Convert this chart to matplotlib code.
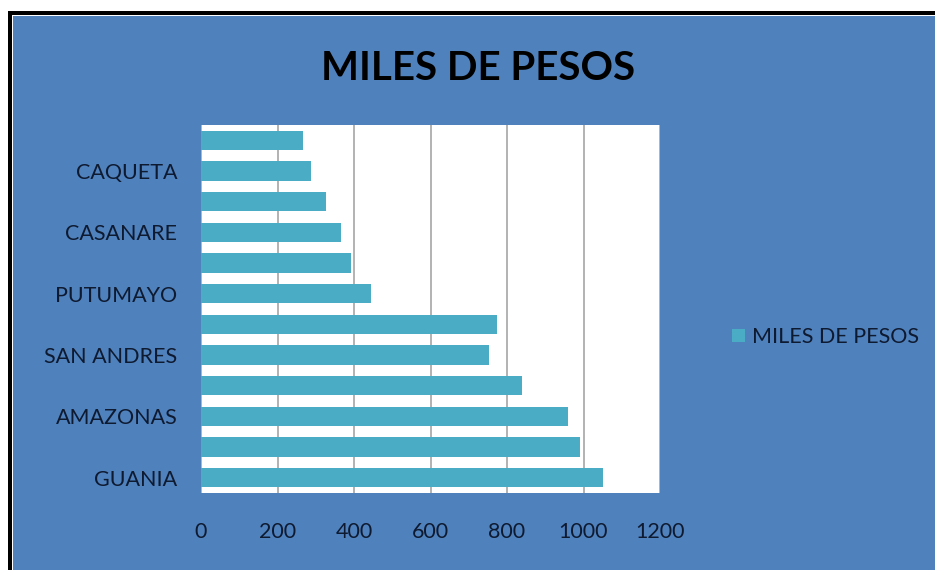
import matplotlib
matplotlib.use("Agg")
import matplotlib.pyplot as plt
from matplotlib.patches import Rectangle

# Data (bottom to top); only every other category label is shown on the axis
categories = ["GUANIA", "", "AMAZONAS", "", "SAN ANDRES", "",
              "PUTUMAYO", "", "CASANARE", "", "CAQUETA", ""]
values = [1050, 991, 959, 838, 754, 773, 444, 391, 365, 326, 287, 267]
series_name = "MILES DE PESOS"
title = "MILES DE PESOS"
x_ticks = [0, 200, 400, 600, 800, 1000, 1200]

W, H = 935, 570
BG = "#4F81BD"
BAR = "#4BACC6"
TEXT = "#0e1a30"

plt.rcParams["font.family"] = ["Lato", "DejaVu Sans"]

fig = plt.figure(figsize=(W / 100, H / 100), dpi=100)
fig.patch.set_facecolor("white")

def px_rect(x0, ytop, color):
    # rectangle from (x0, ytop) in pixels to the bottom-right corner
    fig.patches.append(Rectangle((x0 / W, 0), 1 - x0 / W, 1 - ytop / H,
                                 transform=fig.transFigure, facecolor=color,
                                 edgecolor="none", zorder=-3))

px_rect(8, 11, "black")
px_rect(12, 15, "white")
px_rect(13, 16, BG)

left, right, top, bottom = 201, 660, 125, 493
ax = fig.add_axes([left / W, 1 - bottom / H, (right - left) / W, (bottom - top) / H])
ax.set_facecolor("white")

ypos = list(range(len(values)))
bars = ax.barh(ypos, values, height=0.62, color=BAR, label=series_name, zorder=3)

ax.set_xlim(0, 1200)
ax.set_ylim(-0.5, len(values) - 0.5)
ax.set_xticks(x_ticks)
ax.set_xticklabels([str(t) for t in x_ticks])
ax.set_yticks(ypos)
ax.set_yticklabels(categories)
ax.xaxis.grid(True, color="#a6a6a6", linewidth=1.2, zorder=0)
ax.set_axisbelow(True)
for s in ax.spines.values():
    s.set_visible(False)
ax.tick_params(axis="both", length=0, labelsize=15.5, colors=TEXT)
ax.tick_params(axis="x", pad=21)
ax.tick_params(axis="y", pad=17)

fig.text(478 / W, 1 - 68 / H, title, ha="center", va="center",
         fontsize=29, fontweight="bold", color="black")

leg = fig.legend(handles=[bars], labels=[series_name], loc="center left",
                 bbox_to_anchor=(723 / W, 1 - 337 / H), frameon=False,
                 fontsize=15.5, handlelength=0.6, handleheight=0.6,
                 handletextpad=0.35, borderaxespad=0)
for t in leg.get_texts():
    t.set_color(TEXT)

fig.savefig("out.png", dpi=100, facecolor=fig.get_facecolor())
